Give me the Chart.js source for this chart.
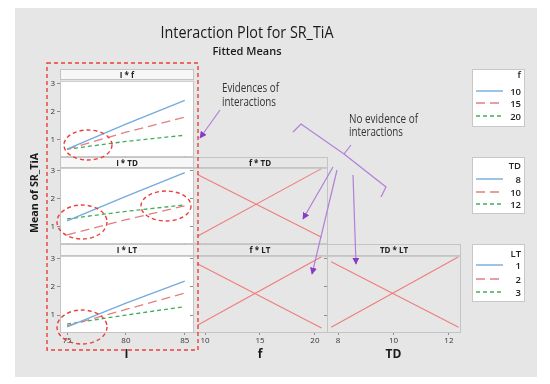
<!DOCTYPE html>
<html>
<head>
<meta charset="utf-8">
<script src="https://cdn.jsdelivr.net/npm/chart.js@4.4.0/dist/chart.umd.min.js"></script>
<style>
  html, body { margin: 0; padding: 0; background: #fff; }
  #stage { position: relative; width: 550px; height: 384px; overflow: hidden; font-family: "Open Sans", "Noto Sans", sans-serif; }
  #bg { position: absolute; left: 15px; top: 8px; width: 522px; height: 369px; background: #e6e6e6; }
  canvas { position: absolute; }
  #overlay { position: absolute; left: 0; top: 0; pointer-events: none; }
</style>
</head>
<body>
<div id="stage">
  <div id="bg"></div>
  <svg id="overlay" width="550" height="384" xmlns="http://www.w3.org/2000/svg">
    <defs>
      <marker id="ah" viewBox="0 0 10 10" refX="9" refY="5" markerWidth="7" markerHeight="7" markerUnits="userSpaceOnUse" orient="auto">
        <path d="M0,0 L10,5 L0,10 z" fill="#8a3bc4"/>
      </marker>
    </defs>

    <!-- titles -->
    <text x="247" y="38" text-anchor="middle" font-size="16" fill="#1a1a1a" textLength="173" lengthAdjust="spacingAndGlyphs">Interaction Plot for SR_TiA</text>
    <text x="247" y="55" text-anchor="middle" font-size="11" font-weight="600" fill="#1a1a1a" textLength="69" lengthAdjust="spacingAndGlyphs">Fitted Means</text>
    <text transform="translate(38,193) rotate(-90)" text-anchor="middle" font-size="11" font-weight="bold" fill="#1a1a1a" textLength="80" lengthAdjust="spacingAndGlyphs">Mean of SR_TiA</text>

    <!-- panel header strips -->
    <g font-size="8" font-weight="bold" fill="#222" text-anchor="middle">
      <rect x="60.5" y="69.5" width="133" height="10" fill="#f7f7f7" stroke="#c4c4c4"/>
      <text x="127" y="77.5">I * f</text>
      <rect x="60.5" y="157.5" width="133" height="10" fill="#f7f7f7" stroke="#c4c4c4"/>
      <text x="127" y="165.5">I * TD</text>
      <rect x="193.5" y="157.5" width="134" height="10" fill="#e6e6e6" stroke="#c4c4c4"/>
      <text x="260" y="165.5">f * TD</text>
      <rect x="60.5" y="244.5" width="133" height="11" fill="#f7f7f7" stroke="#c4c4c4"/>
      <text x="127" y="253">I * LT</text>
      <rect x="193.5" y="244.5" width="134" height="11" fill="#e6e6e6" stroke="#c4c4c4"/>
      <text x="260" y="253">f * LT</text>
      <rect x="327.5" y="244.5" width="133" height="11" fill="#e6e6e6" stroke="#c4c4c4"/>
      <text x="394" y="253">TD * LT</text>
    </g>

    <!-- legends -->
    <g id="legends" font-size="9.5" font-weight="600" fill="#222" text-anchor="end"></g>

    <!-- annotations -->
    <g fill="none" stroke="#e8413a" stroke-width="1.4" stroke-dasharray="4,3">
      <rect x="47" y="63" width="151" height="287"/>
      <ellipse cx="88" cy="145" rx="24" ry="15"/>
      <ellipse cx="82" cy="222" rx="25" ry="17"/>
      <ellipse cx="166" cy="206" rx="25" ry="15"/>
      <ellipse cx="82" cy="327" rx="25" ry="17"/>
    </g>
    <g fill="none" stroke="#b07fd8" stroke-width="1.2">
      <line x1="220" y1="110" x2="200" y2="138" marker-end="url(#ah)"/>
      <path d="M293,132 L301,124 L344,154 L351,145 M344,154 L386,187 L381,197"/>
      <line x1="333" y1="167" x2="303" y2="219" marker-end="url(#ah)"/>
      <line x1="337" y1="170" x2="312" y2="274" marker-end="url(#ah)"/>
      <line x1="353" y1="175" x2="356" y2="264" marker-end="url(#ah)"/>
    </g>
    <g font-size="12" fill="#333">
      <text x="222" y="92" textLength="57" lengthAdjust="spacingAndGlyphs">Evidences of</text>
      <text x="222" y="106" textLength="54" lengthAdjust="spacingAndGlyphs">interactions</text>
      <text x="349" y="123" textLength="69" lengthAdjust="spacingAndGlyphs">No evidence of</text>
      <text x="349" y="136" textLength="54" lengthAdjust="spacingAndGlyphs">interactions</text>
    </g>
  </svg>
</div>

<script>
// ===== DATA =====
const lLevels = [75, 80, 85];
const yTicks = [1, 2, 3];
const lTicks = [75, 80, 85];
const fTicks = [10, 15, 20];
const tdTicks = [8, 10, 12];

const fNames = ['10', '15', '20'];
const tdNames = ['8', '10', '12'];
const ltNames = ['1', '2', '3'];

// I * f  (one array per f level, values at lLevels)
const lf10 = [0.65, 1.55, 2.40];
const lf15 = [0.65, 1.26, 1.80];
const lf20 = [0.65, 0.93, 1.15];

// I * TD
const ltd8 = [1.20, 2.08, 2.93];
const ltd10 = [0.70, 1.24, 1.74];
const ltd12 = [1.27, 1.54, 1.77];

// I * LT
const llt1 = [0.58, 1.42, 2.20];
const llt2 = [0.62, 1.20, 1.78];
const llt3 = [0.68, 1.00, 1.30];

const fEnds = [9.3, 20.6];
const fTdDown = [2.86, 0.61];
const fTdUp = [0.65, 3.07];
const fLtDown = [2.82, 0.54];
const fLtUp = [0.64, 3.07];
const tdEnds = [7.75, 12.35];
const tdLtDown = [2.89, 0.57];
const tdLtUp = [0.57, 3.07];

// ===== STYLES =====
const FONT = '"Open Sans", "Noto Sans", sans-serif';
const levelStyles = [
    { color: '#74aadf', dash: [] },
    { color: '#e27f7f', dash: [9, 5] },
    { color: '#3fae5a', dash: [4, 3] }
];
const crossColor = '#f27c7c';

// frame + white plot background for the panels
const framePlugin = {
    id: 'frame',
    beforeDraw(chart, args, opts) {
        if (!opts.fill) return;
        const a = chart.chartArea;
        chart.ctx.save();
        chart.ctx.fillStyle = opts.fill;
        chart.ctx.fillRect(a.left, a.top, a.right - a.left, a.bottom - a.top);
        chart.ctx.restore();
    },
    afterDraw(chart) {
        const a = chart.chartArea;
        const ctx = chart.ctx;
        ctx.save();
        ctx.strokeStyle = '#c4c4c4';
        ctx.lineWidth = 1;
        ctx.strokeRect(a.left + 0.5, a.top + 0.5, a.right - a.left, a.bottom - a.top);
        ctx.restore();
    }
};

function levelSets(xs, series) {
    return series.map((ys, i) => ({
        data: xs.map((x, j) => ({ x: x, y: ys[j] })),
        borderColor: levelStyles[i].color,
        borderDash: levelStyles[i].dash,
        borderWidth: 1.3,
        pointRadius: 0,
        tension: 0
    }));
}

function crossSets(xs, series) {
    return series.map(ys => ({
        data: xs.map((x, j) => ({ x: x, y: ys[j] })),
        borderColor: crossColor,
        borderWidth: 1.1,
        pointRadius: 0,
        tension: 0
    }));
}

// plot area box: left, top, width, height
function makePanel(box, xRange, xTicks, datasets, opt) {
    const M = 6;
    const axisW = opt.showY ? 15 : 0;
    const axisH = opt.showX ? 32 : 0;
    const canvas = document.createElement('canvas');
    canvas.width = box.w + axisW + 2 * M;
    canvas.height = box.h + axisH + 2 * M;
    canvas.style.left = (box.x - axisW - M) + 'px';
    canvas.style.top = (box.y - M) + 'px';
    document.getElementById('stage').insertBefore(canvas, document.getElementById('overlay'));

    const tickFont = { size: 8, family: FONT };
    return new Chart(canvas.getContext('2d'), {
        type: 'line',
        data: { datasets: datasets },
        options: {
            responsive: false,
            animation: false,
            devicePixelRatio: 1,
            events: [],
            layout: { padding: M },
            plugins: {
                legend: { display: false },
                tooltip: { enabled: false },
                frame: { fill: opt.fill }
            },
            scales: {
                x: {
                    type: 'linear',
                    min: xRange[0],
                    max: xRange[1],
                    display: opt.showX,
                    afterBuildTicks: s => { s.ticks = xTicks.map(v => ({ value: v })); },
                    afterFit: s => { s.height = axisH; },
                    ticks: { font: tickFont, color: '#333', padding: 1, maxRotation: 0, callback: v => String(v) },
                    grid: { drawOnChartArea: false, tickLength: 3, color: '#8c8c8c' },
                    border: { display: false },
                    title: {
                        display: true,
                        text: opt.xTitle || '',
                        color: '#1a1a1a',
                        font: { size: 12, weight: 'bold', family: FONT },
                        padding: { top: 0, bottom: 2 }
                    }
                },
                y: {
                    type: 'linear',
                    min: 0.4,
                    max: 3.1,
                    display: opt.showY,
                    afterBuildTicks: s => { s.ticks = yTicks.map(v => ({ value: v })); },
                    afterFit: s => { s.width = axisW; },
                    ticks: { font: tickFont, color: '#333', padding: 2, callback: v => String(v) },
                    grid: { drawOnChartArea: false, tickLength: 3, color: '#8c8c8c' },
                    border: { display: false }
                }
            }
        },
        plugins: [framePlugin]
    });
}

// ===== LAYOUT =====
const colX = [{ x: 60, w: 133 }, { x: 193, w: 134 }, { x: 327, w: 133 }];
const rowY = [{ y: 80, h: 77 }, { y: 167, h: 77 }, { y: 255, h: 77 }];
const lRange = [74.4, 85.7];
const fRange = [8.9, 21.1];
const tdRange = [7.6, 12.4];

function cell(c, r) {
    return { x: colX[c].x, y: rowY[r].y, w: colX[c].w, h: rowY[r].h };
}

makePanel(cell(0, 0), lRange, lTicks, levelSets(lLevels, [lf10, lf15, lf20]), { showY: true, fill: '#fff' });
makePanel(cell(0, 1), lRange, lTicks, levelSets(lLevels, [ltd8, ltd10, ltd12]), { showY: true, fill: '#fff' });
makePanel(cell(0, 2), lRange, lTicks, levelSets(lLevels, [llt1, llt2, llt3]), { showY: true, showX: true, xTitle: 'I', fill: '#fff' });
makePanel(cell(1, 1), fRange, fTicks, crossSets(fEnds, [fTdDown, fTdUp]), {});
makePanel(cell(1, 2), fRange, fTicks, crossSets(fEnds, [fLtDown, fLtUp]), { showX: true, xTitle: 'f' });
makePanel(cell(2, 2), tdRange, tdTicks, crossSets(tdEnds, [tdLtDown, tdLtUp]), { showX: true, xTitle: 'TD' });

// ===== LEGENDS =====
const legendBoxes = [
    { title: 'f', names: fNames, top: 69, bottom: 126, titleY: 78, rows: [91, 103, 116] },
    { title: 'TD', names: tdNames, top: 157, bottom: 213, titleY: 169, rows: [179, 192, 204] },
    { title: 'LT', names: ltNames, top: 244, bottom: 301, titleY: 257, rows: [265, 279, 292] }
];
const NS = 'http://www.w3.org/2000/svg';
const lg = document.getElementById('legends');
function svgEl(tag, attrs, text) {
    const el = document.createElementNS(NS, tag);
    Object.keys(attrs).forEach(k => el.setAttribute(k, attrs[k]));
    if (text) el.textContent = text;
    lg.appendChild(el);
    return el;
}
legendBoxes.forEach(b => {
    svgEl('rect', { x: 472.5, y: b.top + 0.5, width: 52, height: b.bottom - b.top, fill: '#fff', stroke: '#c8c8c8' });
    svgEl('text', { x: 521, y: b.titleY }, b.title);
    b.names.forEach((name, i) => {
        svgEl('line', {
            x1: 476, x2: 503, y1: b.rows[i], y2: b.rows[i],
            stroke: levelStyles[i].color, 'stroke-width': 1.4,
            'stroke-dasharray': levelStyles[i].dash.length ? levelStyles[i].dash.join(',') : 'none'
        });
        svgEl('text', { x: 521, y: b.rows[i] + 3.5 }, name);
    });
});
</script>
</body>
</html>
